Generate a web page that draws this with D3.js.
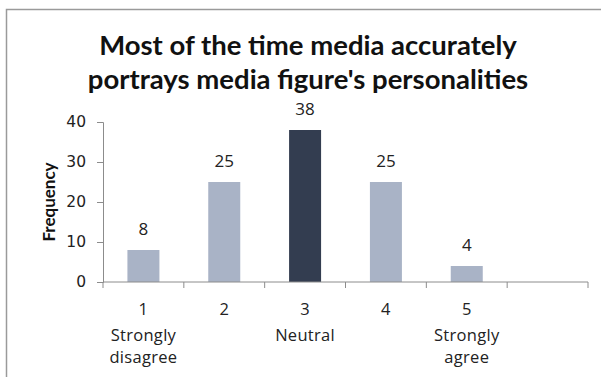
<!DOCTYPE html>
<html>
<head>
<meta charset="utf-8">
<script src="https://cdn.jsdelivr.net/npm/d3@7"></script>
<style>
  html, body { margin: 0; padding: 0; background: #fff; }
  svg { display: block; }
</style>
</head>
<body>
<svg id="chart" width="601" height="377"></svg>
<script>
// Survey responses (1 = strongly disagree ... 5 = strongly agree)
const categories = ["1", "2", "3", "4", "5", ""];
const categoryNotes = [["Strongly", "disagree"], [], ["Neutral"], [], ["Strongly", "agree"], []];
const frequencies = [8, 25, 38, 25, 4, null];
const yTicks = [0, 10, 20, 30, 40];
const titleLines = ["Most of the time media accurately", "portrays media figure's personalities"];
const highlightCategory = "3";

const svg = d3.select("#chart");
const W = 601, H = 377;
const margin = { left: 103, right: 13, top: 122, bottom: 95 };

// Chart frame
svg.append("rect")
  .attr("x", 6.5).attr("y", 9.5)
  .attr("width", W).attr("height", H)
  .attr("fill", "#fff").attr("stroke", "#9a9a9a").attr("stroke-width", 1.5);

// Title
const title = svg.append("text")
  .attr("text-anchor", "middle")
  .attr("font-family", "Lato, 'Open Sans', sans-serif")
  .attr("font-weight", "bold")
  .attr("font-size", 27.5)
  .attr("fill", "#111");
titleLines.forEach((t, i) => {
  title.append("tspan").attr("x", 308).attr("y", 55 + i * 34).text(t);
});

const x = d3.scaleBand()
  .domain(categories.map((c, i) => i))
  .range([margin.left, W - margin.right]);

const y = d3.scaleLinear().domain([0, 40]).range([H - margin.bottom, margin.top]);

const axisColor = "#8c8c8c";

// Y axis
const yAxis = svg.append("g")
  .attr("transform", `translate(${margin.left},0)`)
  .call(d3.axisLeft(y).tickValues(yTicks).tickSize(6).tickPadding(11));
yAxis.select(".domain").attr("stroke", axisColor);
yAxis.selectAll(".tick line").attr("stroke", axisColor);
yAxis.selectAll(".tick text")
  .attr("font-family", "'DejaVu Sans', Verdana, sans-serif")
  .attr("font-size", 15.5).attr("fill", "#222");

// Bars
const bw = 32;
const barData = frequencies.map((v, i) => ({ v, i })).filter(d => d.v !== null);
svg.append("g").selectAll("rect")
  .data(barData)
  .join("rect")
  .attr("x", d => x(d.i) + x.bandwidth() / 2 - bw / 2)
  .attr("width", bw)
  .attr("y", d => y(d.v))
  .attr("height", d => y(0) - y(d.v))
  .attr("fill", d => categories[d.i] === highlightCategory ? "#333d50" : "#a9b3c6");

// Value labels
svg.append("g").selectAll("text")
  .data(barData)
  .join("text")
  .attr("x", d => x(d.i) + x.bandwidth() / 2)
  .attr("y", d => y(d.v) - 15)
  .attr("text-anchor", "middle")
  .attr("font-family", "'Open Sans', sans-serif")
  .attr("font-size", 17).attr("fill", "#222")
  .text(d => d.v);

// X axis: ticks sit on category boundaries
const step = x.step();
const xAxisG = svg.append("g");
xAxisG.append("line")
  .attr("x1", margin.left).attr("x2", W - margin.right)
  .attr("y1", y(0)).attr("y2", y(0))
  .attr("stroke", axisColor);
xAxisG.selectAll("line.tick")
  .data(d3.range(categories.length + 1))
  .join("line").attr("class", "tick")
  .attr("x1", i => margin.left + i * step).attr("x2", i => margin.left + i * step)
  .attr("y1", y(0)).attr("y2", y(0) + 6)
  .attr("stroke", axisColor);

const lineY = [315, 340.5, 362.5];
xAxisG.selectAll("text.cat")
  .data(categories.map((c, i) => ({ c, i })))
  .join("text").attr("class", "cat")
  .attr("text-anchor", "middle")
  .attr("font-family", "'Open Sans', sans-serif")
  .attr("font-size", 16.5)
  .attr("letter-spacing", 0.3)
  .attr("fill", "#222")
  .each(function (d) {
    const t = d3.select(this);
    const cx = x(d.i) + x.bandwidth() / 2;
    [d.c, ...categoryNotes[d.i]].forEach((line, k) => {
      t.append("tspan").attr("x", cx).attr("y", lineY[k]).text(line);
    });
  });

// Y axis title
svg.append("text")
  .attr("transform", `translate(55,${(y(0) + y(40)) / 2}) rotate(-90)`)
  .attr("text-anchor", "middle")
  .attr("font-family", "Lato, sans-serif")
  .attr("font-weight", "bold")
  .attr("font-size", 17).attr("fill", "#111")
  .text("Frequency");
</script>
</body>
</html>
